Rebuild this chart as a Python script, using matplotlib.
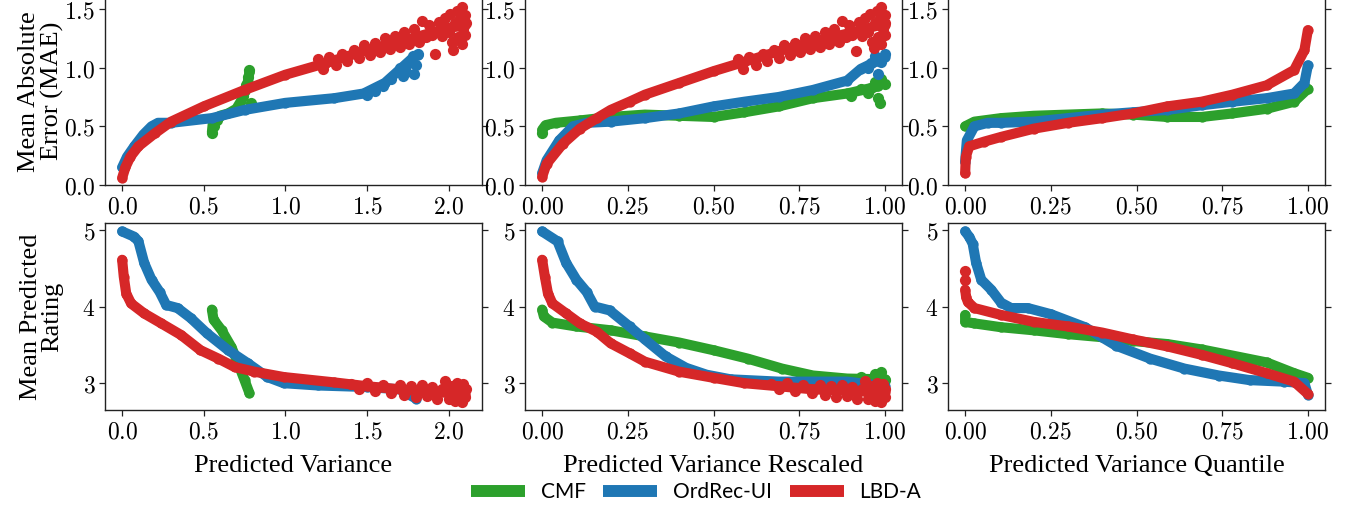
import matplotlib
matplotlib.use("Agg")
import matplotlib.pyplot as plt
from matplotlib.lines import Line2D
from matplotlib.ticker import FuncFormatter, MultipleLocator

plt.rcParams['mathtext.fontset'] = 'cm'

GREEN, BLUE, RED = '#2ca02c', '#1f77b4', '#d62728'
series_names = ['CMF', 'OrdRec-UI', 'LBD-A']

# ---------- Column 1: Predicted Variance ----------
# MAE
v_mae_cmf_x = [0.55, 0.555, 0.57, 0.60, 0.65, 0.70, 0.73, 0.75, 0.77, 0.78]
v_mae_cmf_y = [0.45, 0.52, 0.56, 0.59, 0.61, 0.65, 0.72, 0.80, 0.88, 0.96]
v_mae_ord_x = [0.0, 0.03, 0.075, 0.13, 0.18, 0.22, 0.30, 0.55, 0.75, 1.0, 1.30, 1.48, 1.61, 1.69, 1.77, 1.81]
v_mae_ord_y = [0.15, 0.24, 0.33, 0.43, 0.50, 0.53, 0.53, 0.57, 0.64, 0.70, 0.74, 0.78, 0.87, 0.97, 1.07, 1.11]
v_mae_lbd_x = [0.0, 0.02, 0.05, 0.10, 0.20, 0.30, 0.50, 0.75, 1.0, 1.25, 1.50, 1.75, 2.0, 2.1]
v_mae_lbd_y = [0.06, 0.15, 0.24, 0.33, 0.44, 0.54, 0.67, 0.81, 0.94, 1.04, 1.15, 1.24, 1.34, 1.36]
v_mae_cmf_nx = [0.55, 0.56, 0.79, 0.78, 0.76, 0.58, 0.77, 0.74]
v_mae_cmf_ny = [0.44, 0.50, 0.70, 0.98, 0.85, 0.55, 0.92, 0.76]
v_mae_ord_nx = [1.50, 1.55, 1.60, 1.65, 1.70, 1.72, 1.76, 1.78, 1.80, 1.81, 1.74, 1.79]
v_mae_ord_ny = [0.77, 0.80, 0.84, 0.90, 1.00, 0.93, 1.04, 1.10, 1.02, 1.12, 0.96, 0.95]
v_mae_lbd_nx = [1.20, 1.23, 1.27, 1.31, 1.35, 1.38, 1.42, 1.45, 1.48, 1.52, 1.55, 1.58, 1.61, 1.64,
                1.67, 1.70, 1.73, 1.76, 1.79, 1.82, 1.84, 1.86, 1.88, 1.90, 1.92, 1.94, 1.96, 1.98,
                2.00, 2.01, 2.02, 2.03, 2.04, 2.05, 2.06, 2.07, 2.08, 2.08, 2.09, 2.10, 2.10, 2.11]
v_mae_lbd_ny = [1.07, 0.99, 1.09, 1.02, 1.12, 1.06, 1.15, 1.08, 1.19, 1.11, 1.21, 1.13, 1.25, 1.16,
                1.27, 1.18, 1.30, 1.20, 1.33, 1.22, 1.40, 1.26, 1.36, 1.28, 1.12, 1.39, 1.27, 1.42,
                1.30, 1.46, 1.22, 1.15, 1.38, 1.48, 1.26, 1.42, 1.52, 1.20, 1.33, 1.45, 1.28, 1.38]
# Rating
v_rat_cmf_x = [0.55, 0.56, 0.61, 0.67, 0.71, 0.75, 0.78]
v_rat_cmf_y = [3.96, 3.83, 3.69, 3.47, 3.26, 3.04, 2.87]
v_rat_ord_x = [0.0, 0.075, 0.10, 0.135, 0.18, 0.23, 0.27, 0.34, 0.42, 0.52, 0.65, 0.77, 0.89, 0.99, 1.2, 1.5, 1.7, 1.8]
v_rat_ord_y = [4.98, 4.91, 4.85, 4.57, 4.35, 4.19, 4.02, 3.98, 3.85, 3.65, 3.43, 3.26, 3.08, 3.00, 2.97, 2.95, 2.92, 2.80]
v_rat_lbd_x = [0.0, 0.01, 0.025, 0.055, 0.135, 0.24, 0.36, 0.48, 0.59, 0.69, 0.81, 0.99, 1.3, 1.5, 1.8, 2.1]
v_rat_lbd_y = [4.61, 4.39, 4.17, 4.04, 3.91, 3.78, 3.63, 3.43, 3.32, 3.21, 3.15, 3.08, 3.01, 2.96, 2.90, 2.86]
v_rat_lbd_nx = [1.40, 1.45, 1.50, 1.55, 1.60, 1.65, 1.70, 1.73, 1.77, 1.80, 1.84, 1.87, 1.90,
                1.93, 1.96, 1.98, 2.00, 2.02, 2.04, 2.05, 2.07, 2.08, 2.09, 2.10, 2.11]
v_rat_lbd_ny = [2.99, 2.93, 3.00, 2.90, 2.98, 2.87, 2.97, 2.84, 2.96, 2.82, 2.97, 2.83, 2.95,
                2.80, 2.93, 3.03, 2.79, 2.96, 2.77, 3.00, 2.88, 2.76, 2.99, 2.82, 2.92]

# ---------- Column 2: Predicted Variance Rescaled ----------
r_mae_cmf_x = [0.0, 0.01, 0.04, 0.11, 0.20, 0.30, 0.40, 0.50, 0.59, 0.69, 0.79, 0.89, 0.98]
r_mae_cmf_y = [0.47, 0.51, 0.53, 0.55, 0.58, 0.60, 0.59, 0.58, 0.62, 0.67, 0.74, 0.78, 0.84]
r_mae_ord_x = [0.0, 0.013, 0.05, 0.09, 0.13, 0.20, 0.30, 0.40, 0.50, 0.59, 0.69, 0.79, 0.89, 0.93, 0.98, 1.0]
r_mae_ord_y = [0.10, 0.21, 0.38, 0.50, 0.53, 0.54, 0.57, 0.61, 0.67, 0.71, 0.75, 0.81, 0.89, 0.99, 1.06, 1.09]
r_mae_lbd_x = [0.0, 0.013, 0.06, 0.11, 0.16, 0.20, 0.255, 0.30, 0.40, 0.50, 0.59, 0.69, 0.79, 0.89, 0.98, 1.0]
r_mae_lbd_y = [0.07, 0.18, 0.35, 0.48, 0.57, 0.64, 0.71, 0.77, 0.87, 0.97, 1.05, 1.14, 1.22, 1.29, 1.36, 1.36]
r_mae_cmf_nx = [0.0, 0.90, 0.93, 0.95, 0.97, 0.98, 0.99, 1.0, 0.985, 0.96]
r_mae_cmf_ny = [0.44, 0.76, 0.82, 0.78, 0.88, 0.74, 0.90, 0.86, 0.70, 0.83]
r_mae_ord_nx = [0.95, 0.97, 0.99, 1.0, 0.98, 0.96]
r_mae_ord_ny = [1.00, 1.10, 1.05, 1.12, 0.95, 1.04]
r_mae_lbd_nx = [0.571, 0.586, 0.605, 0.624, 0.643, 0.657, 0.676, 0.690, 0.705, 0.724, 0.738, 0.752,
                0.767, 0.781, 0.795, 0.810, 0.824, 0.838, 0.852, 0.867, 0.876, 0.886, 0.895, 0.905,
                0.915, 0.924, 0.933, 0.943, 0.952, 0.957, 0.962, 0.967, 0.971, 0.976, 0.981, 0.986,
                0.990, 0.990, 0.995, 1.0, 1.0, 1.0]
r_mae_lbd_ny = [1.07, 0.99, 1.09, 1.02, 1.12, 1.06, 1.15, 1.08, 1.19, 1.11, 1.21, 1.13, 1.25, 1.16,
                1.27, 1.18, 1.30, 1.20, 1.33, 1.22, 1.40, 1.26, 1.36, 1.28, 1.14, 1.39, 1.27, 1.42,
                1.30, 1.46, 1.22, 1.17, 1.38, 1.48, 1.26, 1.42, 1.52, 1.20, 1.33, 1.45, 1.28, 1.38]
r_rat_cmf_x = [0.0, 0.005, 0.03, 0.10, 0.20, 0.30, 0.40, 0.50, 0.60, 0.70, 0.79, 0.89, 1.0]
r_rat_cmf_y = [3.96, 3.87, 3.79, 3.74, 3.69, 3.61, 3.53, 3.43, 3.32, 3.19, 3.10, 3.06, 3.05]
r_rat_ord_x = [0.0, 0.045, 0.07, 0.10, 0.13, 0.153, 0.197, 0.255, 0.30, 0.36, 0.42, 0.48, 0.55, 0.69, 0.79, 0.89, 1.0]
r_rat_ord_y = [4.98, 4.85, 4.57, 4.35, 4.19, 4.00, 3.95, 3.74, 3.57, 3.35, 3.20, 3.11, 3.05, 3.02, 3.02, 3.02, 2.96]
r_rat_lbd_x = [0.0, 0.008, 0.017, 0.03, 0.07, 0.11, 0.16, 0.20, 0.255, 0.30, 0.40, 0.50, 0.59, 0.69, 0.79, 0.89, 1.0]
r_rat_lbd_y = [4.61, 4.39, 4.17, 4.04, 3.91, 3.78, 3.67, 3.52, 3.39, 3.28, 3.15, 3.07, 3.00, 2.96, 2.92, 2.90, 2.88]
r_rat_cmf_nx = [0.90, 0.93, 0.95, 0.97, 0.99, 1.0, 0.98]
r_rat_cmf_ny = [3.00, 3.08, 3.02, 3.12, 3.15, 3.04, 2.98]
r_rat_lbd_nx = [0.667, 0.690, 0.714, 0.738, 0.762, 0.786, 0.810, 0.824, 0.843, 0.857, 0.876, 0.890, 0.905,
                0.919, 0.933, 0.943, 0.952, 0.962, 0.971, 0.976, 0.986, 0.990, 0.995, 1.0, 1.0]
r_rat_lbd_ny = [2.99, 2.93, 3.00, 2.90, 2.98, 2.87, 2.97, 2.84, 2.96, 2.82, 2.97, 2.83, 2.95,
                2.80, 2.93, 3.03, 2.79, 2.96, 2.77, 3.00, 2.88, 2.76, 2.99, 2.82, 2.92]

# ---------- Column 3: Predicted Variance Quantile ----------
q_mae_cmf_x = [0.0, 0.027, 0.105, 0.20, 0.30, 0.40, 0.49, 0.59, 0.69, 0.78, 0.88, 0.96, 1.0]
q_mae_cmf_y = [0.50, 0.54, 0.57, 0.59, 0.60, 0.61, 0.60, 0.58, 0.58, 0.61, 0.65, 0.71, 0.82]
q_mae_ord_x = [0.0, 0.005, 0.027, 0.066, 0.105, 0.20, 0.30, 0.40, 0.49, 0.59, 0.69, 0.78, 0.88, 0.96, 0.99, 1.0]
q_mae_ord_y = [0.20, 0.38, 0.50, 0.53, 0.53, 0.54, 0.57, 0.60, 0.62, 0.64, 0.68, 0.71, 0.74, 0.78, 0.87, 1.02]
q_mae_lbd_x = [0.0, 0.002, 0.012, 0.056, 0.105, 0.20, 0.30, 0.40, 0.49, 0.59, 0.69, 0.78, 0.88, 0.96, 0.99, 1.0]
q_mae_lbd_y = [0.10, 0.24, 0.33, 0.37, 0.41, 0.48, 0.53, 0.57, 0.61, 0.67, 0.71, 0.77, 0.85, 0.98, 1.15, 1.32]
q_rat_cmf_x = [0.0, 0.0, 0.027, 0.105, 0.20, 0.30, 0.40, 0.49, 0.59, 0.69, 0.78, 0.88, 0.96, 1.0]
q_rat_cmf_y = [3.89, 3.80, 3.78, 3.73, 3.69, 3.64, 3.60, 3.55, 3.51, 3.44, 3.36, 3.27, 3.13, 3.07]
q_rat_ord_x = [0.0, 0.012, 0.022, 0.032, 0.047, 0.076, 0.105, 0.134, 0.183, 0.25, 0.35, 0.44, 0.54, 0.64, 0.74, 0.83, 0.93, 0.99, 1.0]
q_rat_ord_y = [4.98, 4.91, 4.82, 4.57, 4.35, 4.22, 4.05, 3.98, 3.98, 3.90, 3.73, 3.49, 3.32, 3.19, 3.10, 3.04, 3.02, 3.00, 2.85]
q_rat_lbd_x = [0.0, 0.003, 0.008, 0.027, 0.105, 0.20, 0.30, 0.40, 0.49, 0.59, 0.69, 0.78, 0.88, 0.96, 1.0]
q_rat_lbd_y = [4.22, 4.12, 4.06, 3.98, 3.89, 3.80, 3.74, 3.66, 3.57, 3.48, 3.37, 3.26, 3.13, 3.02, 2.86]
q_rat_lbd_nx = [0.0, 0.0]
q_rat_lbd_ny = [4.47, 4.35]

LW = 7.3
MS = 55


def draw(ax, x, y, color, nx=None, ny=None, z=2):
    ax.plot(x, y, color=color, lw=LW, solid_capstyle='round', solid_joinstyle='round', zorder=z)
    ax.scatter(x, y, s=MS, color=color, zorder=z, linewidths=0)
    if nx:
        ax.scatter(nx, ny, s=MS + 10, color=color, zorder=z, linewidths=0)


W, H = 1349, 513
fig = plt.figure(figsize=(W / 100, H / 100), dpi=100)
lefts = [105, 525, 948]
aw = 377
rows = [(-2.7, 185), (223, 410)]
axes = [[None] * 3 for _ in range(2)]
for r, (top, bot) in enumerate(rows):
    for c, lft in enumerate(lefts):
        ax = fig.add_axes([lft / W, 1 - bot / H, aw / W, (bot - top) / H])
        axes[r][c] = ax

serif = ['Liberation Serif', 'DejaVu Serif']

# Top row MAE
draw(axes[0][0], v_mae_cmf_x, v_mae_cmf_y, GREEN, v_mae_cmf_nx, v_mae_cmf_ny, 2)
draw(axes[0][0], v_mae_ord_x, v_mae_ord_y, BLUE, v_mae_ord_nx, v_mae_ord_ny, 3)
draw(axes[0][0], v_mae_lbd_x, v_mae_lbd_y, RED, v_mae_lbd_nx, v_mae_lbd_ny, 4)
draw(axes[0][1], r_mae_cmf_x, r_mae_cmf_y, GREEN, r_mae_cmf_nx, r_mae_cmf_ny, 2)
draw(axes[0][1], r_mae_ord_x, r_mae_ord_y, BLUE, r_mae_ord_nx, r_mae_ord_ny, 3)
draw(axes[0][1], r_mae_lbd_x, r_mae_lbd_y, RED, r_mae_lbd_nx, r_mae_lbd_ny, 4)
draw(axes[0][2], q_mae_cmf_x, q_mae_cmf_y, GREEN, z=2)
draw(axes[0][2], q_mae_ord_x, q_mae_ord_y, BLUE, z=3)
draw(axes[0][2], q_mae_lbd_x, q_mae_lbd_y, RED, z=4)
# Bottom row Rating
draw(axes[1][0], v_rat_cmf_x, v_rat_cmf_y, GREEN, z=2)
draw(axes[1][0], v_rat_ord_x, v_rat_ord_y, BLUE, z=3)
draw(axes[1][0], v_rat_lbd_x, v_rat_lbd_y, RED, v_rat_lbd_nx, v_rat_lbd_ny, 4)
draw(axes[1][1], r_rat_cmf_x, r_rat_cmf_y, GREEN, r_rat_cmf_nx, r_rat_cmf_ny, 2)
draw(axes[1][1], r_rat_ord_x, r_rat_ord_y, BLUE, z=3)
draw(axes[1][1], r_rat_lbd_x, r_rat_lbd_y, RED, r_rat_lbd_nx, r_rat_lbd_ny, 4)
draw(axes[1][2], q_rat_cmf_x, q_rat_cmf_y, GREEN, z=2)
draw(axes[1][2], q_rat_ord_x, q_rat_ord_y, BLUE, z=3)
draw(axes[1][2], q_rat_lbd_x, q_rat_lbd_y, RED, q_rat_lbd_nx, q_rat_lbd_ny, 4)

fmt1 = FuncFormatter(lambda v, p: f'${v:.1f}$')
fmt2 = FuncFormatter(lambda v, p: f'${v:.2f}$')
fmt0 = FuncFormatter(lambda v, p: f'${v:.0f}$')

xlabels = ['Predicted Variance', 'Predicted Variance Rescaled', 'Predicted Variance Quantile']
for r in range(2):
    for c in range(3):
        ax = axes[r][c]
        for s in ax.spines.values():
            s.set_linewidth(1.0)
            s.set_color('#222222')
        ax.tick_params(axis='both', labelsize=17, length=4, width=0.9, color='#222222', pad=3)
        ax.tick_params(axis='y', right=True)
        if c == 0:
            ax.set_xlim(-0.105, 2.205)
            ax.xaxis.set_major_locator(MultipleLocator(0.5))
            ax.xaxis.set_major_formatter(fmt1)
        else:
            ax.set_xlim(-0.05, 1.05)
            ax.xaxis.set_major_locator(MultipleLocator(0.25))
            ax.xaxis.set_major_formatter(fmt2)
        if r == 0:
            ax.set_ylim(0, 1.6)
            ax.yaxis.set_major_locator(MultipleLocator(0.5))
            ax.yaxis.set_major_formatter(fmt1)
        else:
            ax.set_ylim(2.65, 5.09)
            ax.yaxis.set_major_locator(MultipleLocator(1))
            ax.yaxis.set_major_formatter(fmt0)
            ax.set_xlabel(xlabels[c], fontsize=19, family=serif, labelpad=8)

axes[0][0].set_ylabel('Mean Absolute\nError (MAE)', fontsize=19, family=serif, linespacing=1.0)
axes[1][0].set_ylabel('Mean Predicted\nRating', fontsize=19, family=serif, linespacing=1.0)
for r in range(2):
    axes[r][0].yaxis.set_label_coords(-0.11, 0.5)

handles = [Line2D([], [], color=col, lw=8.6, solid_capstyle='butt') for col in (GREEN, BLUE, RED)]
fig.legend(handles, series_names, loc='center', bbox_to_anchor=(696 / W, 1 - 492 / H),
           ncol=3, frameon=False, handlelength=2.6, handletextpad=0.75, columnspacing=0.85,
           prop={'family': ['Lato', 'DejaVu Sans'], 'size': 15})

fig.savefig('out.png', dpi=100)
